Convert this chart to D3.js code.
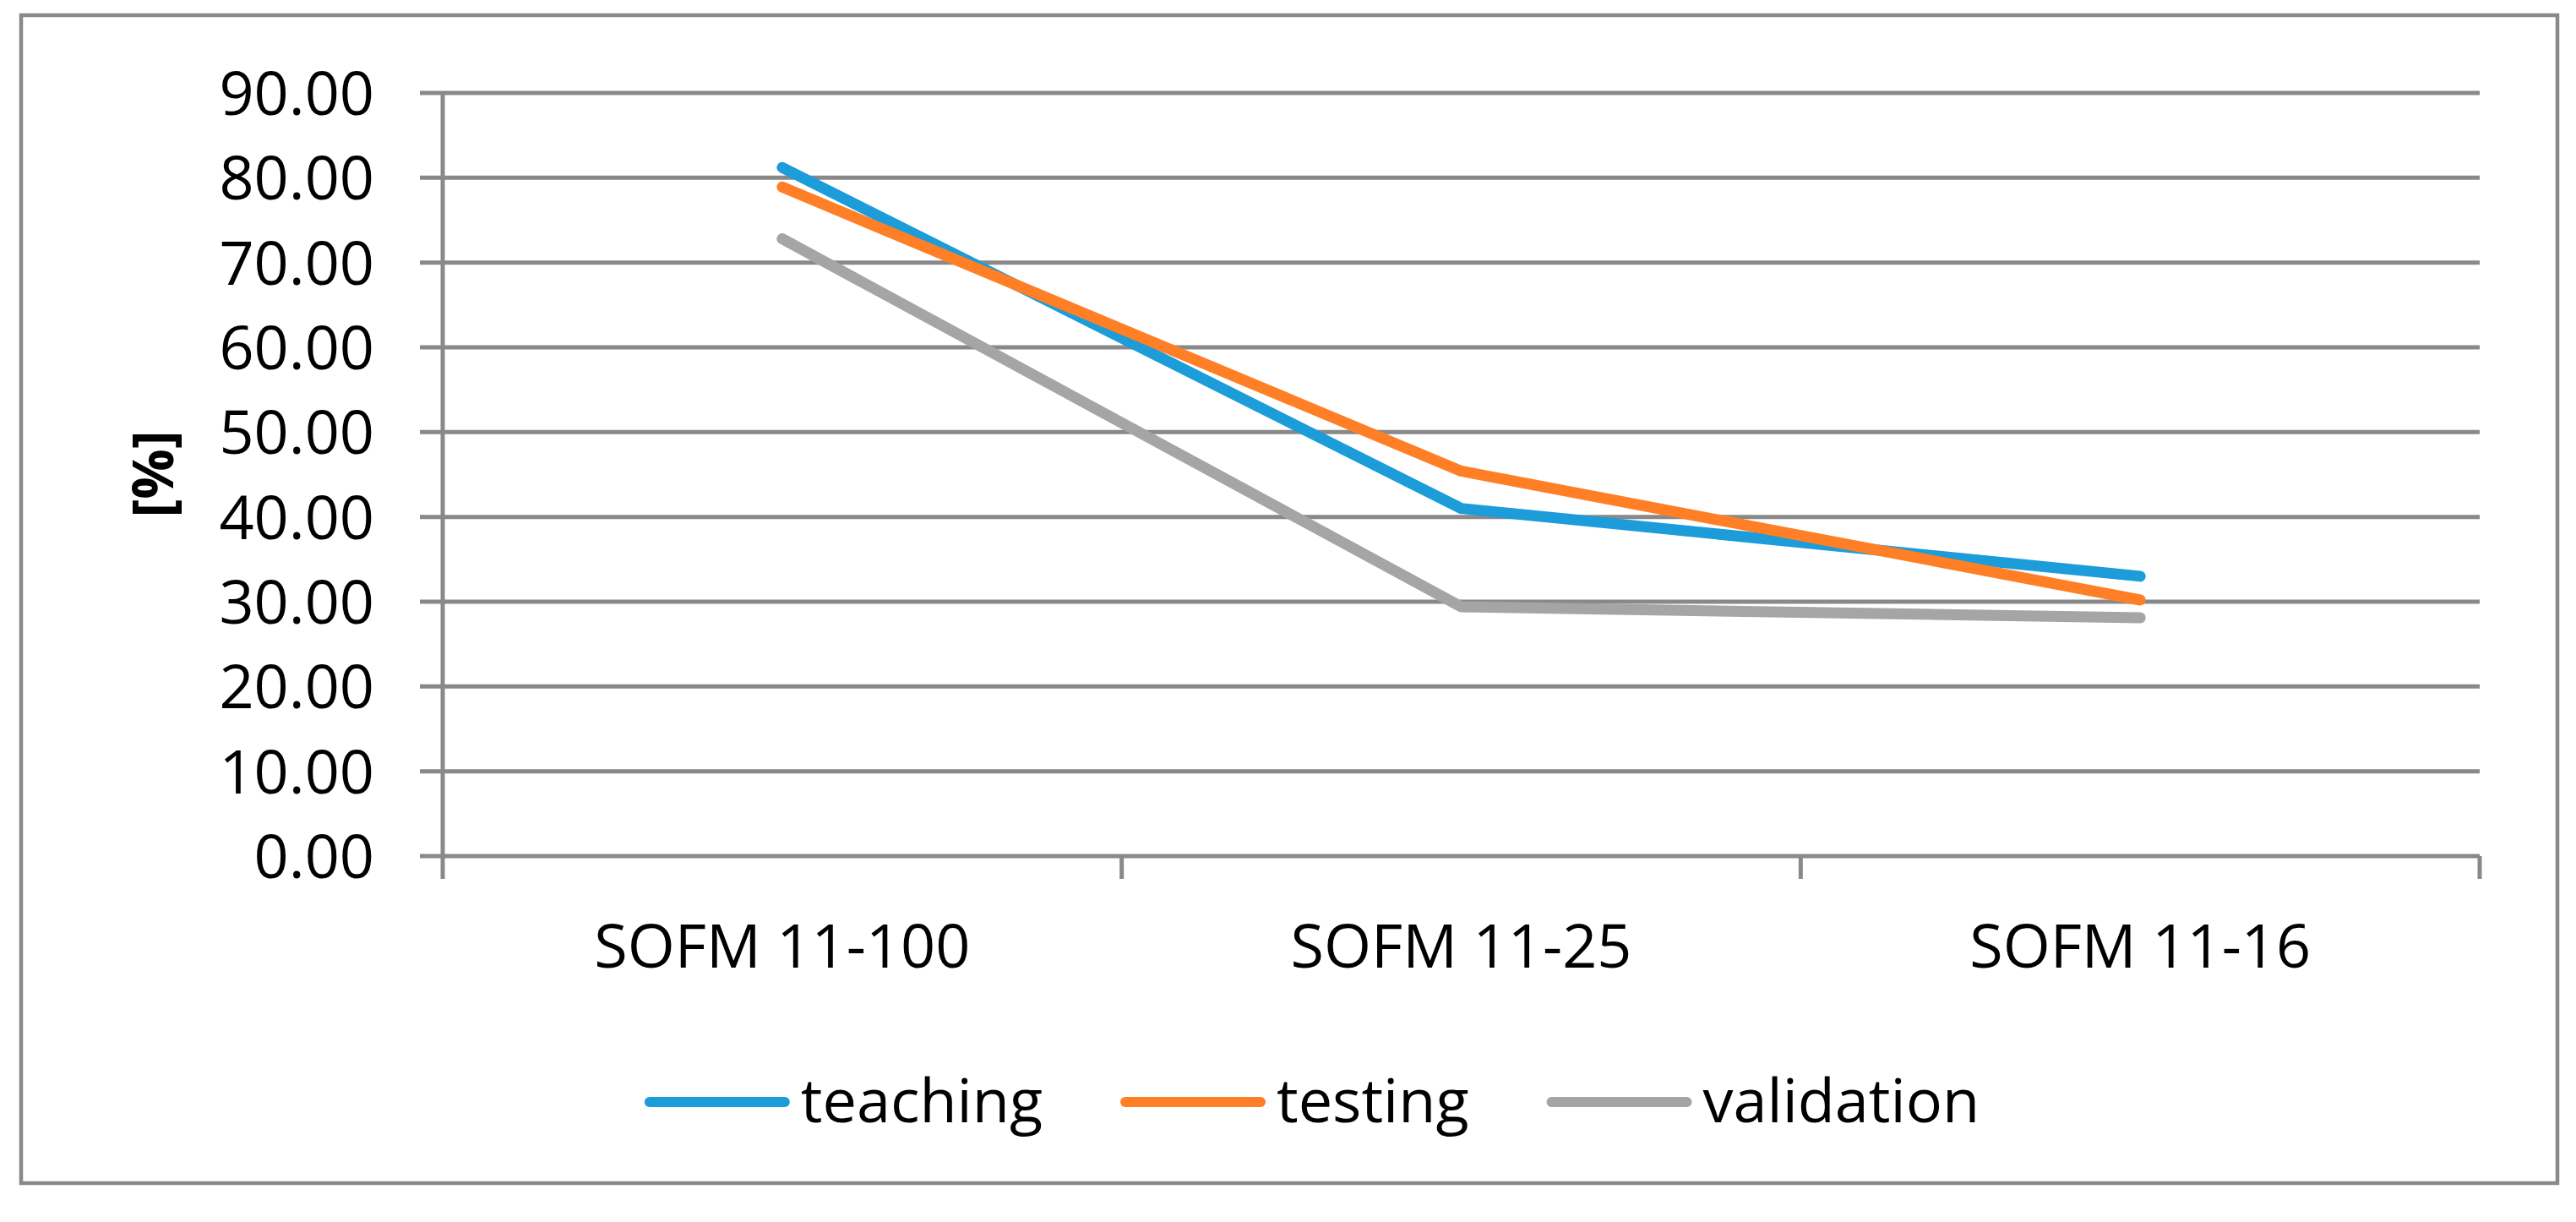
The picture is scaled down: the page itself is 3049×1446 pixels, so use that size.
<!DOCTYPE html>
<html>
<head>
<meta charset="utf-8">
<script src="https://cdn.jsdelivr.net/npm/d3@7/dist/d3.min.js"></script>
<style>
    body { margin: 0; background: #ffffff; }
    text { font-family: "Open Sans", sans-serif; fill: #000000; }
</style>
</head>
<body>
<div id="chartContainer"></div>
<script>
    // Chart data
    var categories = ["SOFM 11-100", "SOFM 11-25", "SOFM 11-16"]
    var seriesNames = ["teaching", "testing", "validation"]
    var teaching = [81.2, 41.0, 33.0]
    var testing = [78.9, 45.4, 30.2]
    var validation = [72.8, 29.4, 28.1]
    var yTicks = [0, 10, 20, 30, 40, 50, 60, 70, 80, 90]
    var yLabel = "[%]"

    var seriesValues = [teaching, testing, validation]
    var color = ["#1c9cd8", "#fe7f26", "#a5a5a5"]

    // Defining chart dimensions
    var width = 3049
    var height = 1446

    var plotLeft = 524
    var plotRight = 2935
    var plotTop = 110
    var plotBottom = 1013

    var gridColor = "#898989"

    var svg = d3.select('#chartContainer')
                .append('svg')
                .attr('width', width)
                .attr('height', height)
                .attr('viewBox', "0 0 " + width + " " + height)

    // Outer chart border
    svg.append('rect')
        .attr('x', 25)
        .attr('y', 18)
        .attr('width', 3027 - 25)
        .attr('height', 1400 - 18)
        .attr('fill', '#ffffff')
        .attr('stroke', gridColor)
        .attr('stroke-width', 4.5)

    // Scales
    var xBand = d3.scaleBand()
                    .domain(categories)
                    .range([plotLeft, plotRight])

    var xScale = d3.scalePoint()
                    .domain(categories)
                    .range([plotLeft, plotRight])
                    .padding(0.5)

    var yScale = d3.scaleLinear()
                    .domain([0, 90])
                    .range([plotBottom, plotTop])

    // Horizontal gridlines (the 0 line doubles as x axis)
    svg.append('g')
        .attr('class', 'grid')
        .selectAll('line')
        .data(yTicks)
        .enter()
        .append('line')
        .attr('x1', plotLeft - 27)
        .attr('x2', plotRight)
        .attr('y1', (d) => yScale(d))
        .attr('y2', (d) => yScale(d))
        .attr('stroke', gridColor)
        .attr('stroke-width', 5)

    // Vertical axis line
    svg.append('line')
        .attr('x1', plotLeft)
        .attr('x2', plotLeft)
        .attr('y1', yScale(90))
        .attr('y2', yScale(0))
        .attr('stroke', gridColor)
        .attr('stroke-width', 5)

    // Category separator ticks below the x axis
    var xTickPositions = categories.map((c) => xBand(c)).concat([plotRight])
    svg.append('g')
        .attr('class', 'xTicks')
        .selectAll('line')
        .data(xTickPositions)
        .enter()
        .append('line')
        .attr('x1', (d) => d)
        .attr('x2', (d) => d)
        .attr('y1', yScale(0))
        .attr('y2', yScale(0) + 27)
        .attr('stroke', gridColor)
        .attr('stroke-width', 5)

    // Y tick labels
    svg.append('g')
        .attr('class', 'yLabels')
        .selectAll('text')
        .data(yTicks)
        .enter()
        .append('text')
        .attr('x', 443)
        .attr('y', (d) => yScale(d))
        .attr('dy', '0.36em')
        .attr('text-anchor', 'end')
        .style('font-size', '72px')
        .text((d) => d3.format(".2f")(d))

    // X category labels
    svg.append('g')
        .attr('class', 'xLabels')
        .selectAll('text')
        .data(categories)
        .enter()
        .append('text')
        .attr('x', (d) => xScale(d))
        .attr('y', 1145)
        .attr('text-anchor', 'middle')
        .style('font-size', '72px')
        .text((d) => d)

    // Y axis title
    svg.append('text')
        .attr('text-anchor', 'middle')
        .attr('transform', "translate(205,561)rotate(-90)")
        .style('font-size', '66px')
        .style('font-weight', 'bold')
        .text(yLabel)

    // Lines
    var line = d3.line()
                .x((d, i) => xScale(categories[i]))
                .y((d) => yScale(d))

    svg.append('g')
        .attr('class', 'series')
        .selectAll('path')
        .data(seriesValues)
        .enter()
        .append('path')
        .attr('d', (d) => line(d))
        .attr('fill', 'none')
        .attr('stroke', (d, i) => color[i])
        .attr('stroke-width', 13)
        .attr('stroke-linecap', 'round')
        .attr('stroke-linejoin', 'round')

    // Legend, laid out from measured text widths
    var legendY = 1304
    var swatchLength = 160
    var legend = svg.append('g').attr('class', 'legend')

    var items = legend.selectAll('g')
                    .data(seriesNames)
                    .enter()
                    .append('g')

    items.append('line')
        .attr('x1', 0)
        .attr('x2', swatchLength)
        .attr('y1', legendY)
        .attr('y2', legendY)
        .attr('stroke', (d, i) => color[i])
        .attr('stroke-width', 12)
        .attr('stroke-linecap', 'round')

    items.append('text')
        .attr('x', swatchLength + 19)
        .attr('y', legendY + 24)
        .style('font-size', '72px')
        .text((d) => d)

    var itemWidths = []
    items.each(function () {
        var t = d3.select(this).select('text').node().getComputedTextLength()
        itemWidths.push(swatchLength + 19 + t)
    })
    var itemGap = 98
    var totalWidth = d3.sum(itemWidths) + itemGap * (itemWidths.length - 1)
    var startX = 1550 - totalWidth / 2 + 6
    var offsets = []
    var acc = startX
    itemWidths.forEach((w) => { offsets.push(acc); acc += w + itemGap })

    items.attr('transform', (d, i) => "translate(" + offsets[i] + ",0)")
</script>
</body>
</html>
